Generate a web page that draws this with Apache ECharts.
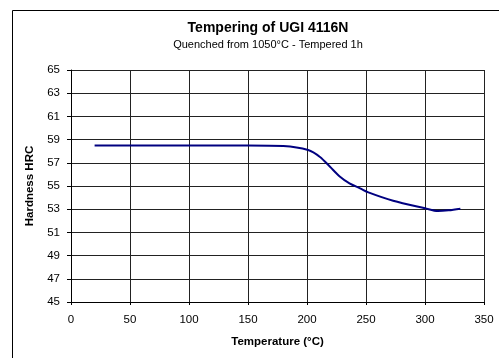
<!DOCTYPE html>
<html>
<head>
<meta charset="utf-8">
<script src="https://cdn.jsdelivr.net/npm/echarts@6/dist/echarts.min.js"></script>
<style>
  html, body { margin: 0; padding: 0; background: #fff; }
  #chart { width: 499px; height: 358px; }
</style>
</head>
<body>
<div id="chart"></div>
<script>
// temperature (°C) and hardness (HRC)
const temps = [20, 50, 100, 150, 180, 201, 211, 219.5, 228, 236, 245, 252, 273, 300, 311, 320, 330]
const hardness = [58.5, 58.5, 58.5, 58.5, 58.45, 58.1, 57.5, 56.66, 55.8, 55.23, 54.8, 54.45, 53.73, 53.08, 52.84, 52.9, 53.04]

const font = 'Arial, "Liberation Sans", sans-serif'
const chart = echarts.init(document.getElementById('chart'))

chart.setOption({
  backgroundColor: '#fff',
  animation: false,
  title: {
    text: 'Tempering of UGI 4116N',
    subtext: 'Quenched from 1050°C - Tempered 1h',
    left: 268, top: 21, textAlign: 'center', itemGap: 4, padding: 0,
    textStyle: { fontFamily: font, fontSize: 14, fontWeight: 'bold', color: '#000' },
    subtextStyle: { fontFamily: font, fontSize: 11, color: '#000' }
  },
  graphic: [{
    type: 'rect', silent: true,
    shape: { x: 12.5, y: 10.5, width: 490, height: 360 },
    style: { fill: 'none', stroke: '#000', lineWidth: 1 }
  }],
  grid: { left: 71, top: 70, right: 15, bottom: 56, containLabel: false },
  xAxis: {
    type: 'value', min: 0, max: 350, interval: 50,
    name: 'Temperature (°C)', nameLocation: 'middle', nameGap: 34,
    nameTextStyle: { fontFamily: font, fontSize: 11.5, fontWeight: 'bold', color: '#000' },
    axisLine: { show: true, lineStyle: { color: '#000', width: 1 } },
    axisTick: { show: true, length: 3, lineStyle: { color: '#000' } },
    axisLabel: { fontFamily: font, fontSize: 11.5, color: '#000', margin: 12 },
    splitLine: { show: true, lineStyle: { color: '#222', width: 1 } }
  },
  yAxis: {
    type: 'value', min: 45, max: 65, interval: 2,
    name: 'Hardness HRC', nameLocation: 'middle', nameGap: 34,
    nameTextStyle: { fontFamily: font, fontSize: 11.5, fontWeight: 'bold', color: '#000' },
    axisLine: { show: true, lineStyle: { color: '#000', width: 1 } },
    axisTick: { show: true, length: 4, lineStyle: { color: '#000' } },
    axisLabel: { fontFamily: font, fontSize: 11.5, color: '#000', margin: 11 },
    splitLine: { show: true, lineStyle: { color: '#222', width: 1 } }
  },
  series: [{
    type: 'line',
    data: temps.map((t, i) => [t, hardness[i]]),
    smooth: 0.3,
    showSymbol: false,
    lineStyle: { color: '#000080', width: 2 }
  }]
})
</script>
</body>
</html>
